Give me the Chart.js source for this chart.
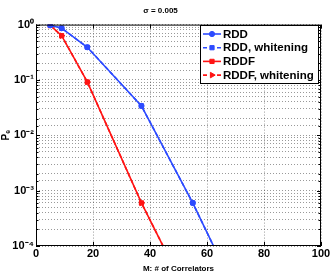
<!DOCTYPE html>
<html><head><meta charset="utf-8">
<style>html,body{margin:0;padding:0;background:#fff;}#w{width:332px;height:274px;}</style>
<script src="https://cdn.jsdelivr.net/npm/chart.js@4.4.0/dist/chart.umd.min.js"></script>
</head><body><div id="w"><canvas id="c" width="332" height="274"></canvas></div>
<script>
const titleText = 'σ = 0.005';
const xTitle = 'M: # of Correlators';
const yTitle = 'Pₑ';
const xTicks = [0, 20, 40, 60, 80, 100];
const yDecades = [1, 0.1, 0.01, 0.001, 0.0001];
const yTickLabels = ['10⁰', '10⁻¹', '10⁻²', '10⁻³', '10⁻⁴'];
const seriesNames = ['RDD', 'RDD, whitening', 'RDDF', 'RDDF, whitening'];
const rddM = [5, 9, 18, 37, 55, 74];
const rddP = [0.97, 0.86, 0.39, 0.034, 0.0006, 0.0000056];
const rddfM = [5, 9, 18, 37, 55];
const rddfP = [0.97, 0.63, 0.092, 0.0006, 0.0000085];
const BLUE = 'rgb(45,75,255)';
const RED = 'rgb(255,20,20)';
const FONT = '"Liberation Sans", Arial, sans-serif';

function pts(xs, ys){ return xs.map((x,i)=>({x:x, y:ys[i]})); }

const ds = [
  {label: seriesNames[0], data: pts(rddM, rddP), borderColor: BLUE, backgroundColor: BLUE, pointStyle:'circle', pointRadius:2.6, borderWidth:1.6},
  {label: seriesNames[1], data: pts(rddM, rddP), borderColor: BLUE, backgroundColor: BLUE, pointStyle:'rect', pointRadius:3, borderWidth:1.6, borderDash:[4,3]},
  {label: seriesNames[2], data: pts(rddfM, rddfP), borderColor: RED, backgroundColor: RED, pointStyle:'rect', pointRadius:3, borderWidth:1.6},
  {label: seriesNames[3], data: pts(rddfM, rddfP), borderColor: RED, backgroundColor: RED, pointStyle:'triangle', rotation:90, pointRadius:3.2, borderWidth:1.6, borderDash:[4,3]}
];
ds.forEach(d=>{ d.pointBorderWidth = 1; d.tension = 0; d.fill = false; });

const boxPlugin = {
  id: 'boxPlugin',
  afterDraw(chart){
    const ctx = chart.ctx, a = chart.chartArea;
    const xs = chart.scales.x, ys = chart.scales.y;
    ctx.save();
    ctx.strokeStyle = '#000'; ctx.lineWidth = 1;
    ctx.strokeRect(a.left+0.5, a.top+0.5, a.right-a.left-1, a.bottom-a.top-1);
    ctx.beginPath();
    xs.ticks.forEach(t=>{
      const px = Math.round(xs.getPixelForValue(t.value))+0.5;
      ctx.moveTo(px, a.bottom); ctx.lineTo(px, a.bottom-4);
      ctx.moveTo(px, a.top); ctx.lineTo(px, a.top+4);
    });
    ys.ticks.forEach(t=>{
      const py = Math.round(ys.getPixelForValue(t.value))+0.5;
      const major = yDecades.some(v=>Math.abs(Math.log10(v)-Math.log10(t.value))<1e-6);
      const L = major ? 4 : 2.5;
      ctx.moveTo(a.left, py); ctx.lineTo(a.left+L, py);
      ctx.moveTo(a.right, py); ctx.lineTo(a.right-L, py);
    });
    ctx.stroke();
    // legend
    const bx = 200, by = 25, bw = 118, bh = 58;
    ctx.fillStyle = '#fff'; ctx.fillRect(bx, by, bw, bh);
    ctx.strokeStyle = '#000'; ctx.lineWidth = 1;
    ctx.strokeRect(bx+0.5, by+0.5, bw, bh);
    ctx.font = 'bold 11.5px ' + FONT;
    ctx.textBaseline = 'middle'; ctx.textAlign = 'left';
    chart.data.datasets.forEach((d,i)=>{
      const y = by + 9 + i*13.7;
      ctx.save();
      ctx.strokeStyle = d.borderColor; ctx.fillStyle = d.backgroundColor; ctx.lineWidth = 1.6;
      ctx.setLineDash(d.borderDash || []);
      ctx.beginPath(); ctx.moveTo(bx+3, y); ctx.lineTo(bx+21, y); ctx.stroke();
      ctx.setLineDash([]);
      ctx.lineWidth = 1;
      Chart.helpers.drawPoint(ctx, {pointStyle: d.pointStyle, radius: d.pointRadius, rotation: d.rotation||0, borderWidth:1}, bx+12, y);
      ctx.restore();
      ctx.fillStyle = '#000';
      ctx.fillText(d.label, bx+23, y+0.5);
    });
    ctx.restore();
  }
};

new Chart(document.getElementById('c'), {
  type: 'line',
  data: { datasets: ds },
  options: {
    responsive: false, animation: false, devicePixelRatio: 1,
    layout: { padding: { top: 0, right: 11, left: 0, bottom: 0 } },
    plugins: {
      legend: { display: false },
      tooltip: { enabled: false },
      title: { display: true, text: titleText, color: '#000', font: { family: FONT, size: 8, weight: 'bold' }, padding: { top: 6, bottom: 9 } }
    },
    scales: {
      x: {
        type: 'linear', min: 0, max: 100,
        afterBuildTicks(s){ s.ticks = xTicks.map(v=>({value:v})); },
        ticks: { color: '#000', font: { family: FONT, size: 11, weight: 'bold' }, padding: 1, maxRotation: 0 },
        grid: { color: 'rgba(0,0,0,0.4)', drawTicks: false, lineWidth: 1 },
        border: { display: false, dash: [1, 2] },
        title: { display: true, text: xTitle, color: '#000', font: { family: FONT, size: 8, weight: 'bold' }, padding: { top: 1, bottom: 0 } },
        afterFit(s){ s.height = 28; }
      },
      y: {
        type: 'logarithmic', min: 0.0001, max: 1,
        ticks: { color: '#000', autoSkip: false, font: { family: FONT, size: 11, weight: 'bold' }, padding: 2,
          callback(v){ const i = yDecades.findIndex(d=>Math.abs(Math.log10(d)-Math.log10(v))<1e-6); return i>=0 ? yTickLabels[i] : ''; } },
        grid: { color: 'rgba(0,0,0,0.4)', drawTicks: false, lineWidth: 1 },
        border: { display: false, dash: [1, 2] },
        title: { display: true, text: yTitle, color: '#000', font: { family: FONT, size: 10, weight: 'bold' }, padding: { top: 0, bottom: 0 } },
        afterFit(s){ s.width = 36; }
      }
    }
  },
  plugins: [boxPlugin]
});
</script></body></html>
